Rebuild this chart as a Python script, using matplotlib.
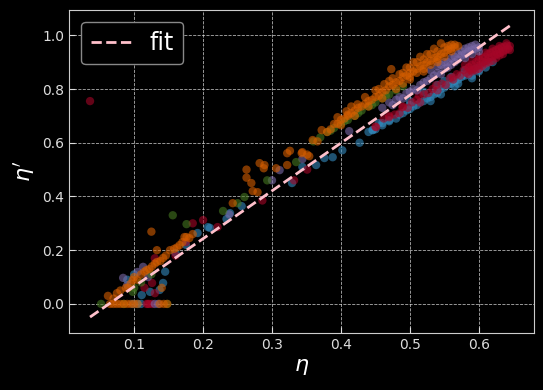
import matplotlib
matplotlib.use("Agg")
import matplotlib.pyplot as plt
import numpy as np

#%% data (eta, eta')

blue_x = [0.098, 0.105, 0.11, 0.142, 0.137, 0.123, 0.111, 0.09, 0.1, 0.145,
          0.16, 0.175, 0.192, 0.207, 0.21, 0.234, 0.239, 0.256, 0.329, 0.344,
          0.364, 0.376, 0.388, 0.402, 0.427, 0.446, 0.455, 0.47,
          0.44, 0.45, 0.46, 0.47, 0.48, 0.485, 0.49, 0.495, 0.5, 0.505,
          0.51, 0.515, 0.52, 0.525, 0.53, 0.535, 0.54, 0.545, 0.55, 0.555,
          0.56, 0.565, 0.57, 0.575, 0.58, 0.585, 0.59, 0.595, 0.6, 0.605,
          0.61, 0.615, 0.52, 0.54, 0.56, 0.58, 0.5, 0.55, 0.53, 0.57, 0.6, 0.59,
          0.46, 0.446, 0.5, 0.538, 0.576, 0.6, 0.62, 0.61, 0.59, 0.565, 0.545]
blue_y = [0.0, 0.0, 0.0, 0.078, 0.052, 0.045, 0.033, 0.09, 0.11, 0.12,
          0.19, 0.22, 0.264, 0.286, 0.283, 0.316, 0.338, 0.364, 0.45, 0.51,
          0.517, 0.543, 0.546, 0.572, 0.60, 0.647, 0.673, 0.684,
          0.64, 0.65, 0.665, 0.68, 0.69, 0.705, 0.71, 0.72, 0.725, 0.735,
          0.74, 0.75, 0.755, 0.765, 0.77, 0.78, 0.785, 0.8, 0.805, 0.815,
          0.82, 0.83, 0.835, 0.845, 0.85, 0.86, 0.865, 0.875, 0.88, 0.885,
          0.895, 0.9, 0.79, 0.815, 0.845, 0.87, 0.755, 0.83, 0.755, 0.82, 0.865, 0.85,
          0.673, 0.647, 0.74, 0.796, 0.851, 0.87, 0.9, 0.88, 0.84, 0.81, 0.78]

red_x = [0.036, 0.118, 0.122, 0.126, 0.12, 0.126, 0.13, 0.115, 0.13,
         0.185, 0.2, 0.221, 0.175, 0.16, 0.286, 0.332, 0.351,
         0.45, 0.462, 0.47, 0.478, 0.485, 0.49, 0.497, 0.503, 0.51, 0.515,
         0.52, 0.527, 0.533, 0.54, 0.546, 0.552, 0.558, 0.563, 0.568, 0.573,
         0.578, 0.582, 0.585, 0.588, 0.59, 0.593, 0.596, 0.598, 0.6, 0.602,
         0.605, 0.607, 0.609, 0.611, 0.613, 0.615, 0.617, 0.619, 0.621, 0.623,
         0.625, 0.627, 0.629, 0.631, 0.633, 0.635, 0.637, 0.639, 0.641, 0.643,
         0.645, 0.62, 0.6, 0.59, 0.61, 0.63,
         0.58, 0.59, 0.6, 0.61, 0.62, 0.63, 0.64, 0.585, 0.595, 0.605, 0.615,
         0.625, 0.635, 0.645, 0.562, 0.586, 0.538, 0.513, 0.489, 0.47, 0.451]
red_y = [0.755, 0.0, 0.0, 0.0, 0.0, 0.078, 0.04, 0.06, 0.17,
         0.30, 0.312, 0.286, 0.23, 0.18, 0.385, 0.46, 0.5,
         0.66, 0.69, 0.70, 0.705, 0.71, 0.735, 0.73, 0.75, 0.76, 0.75,
         0.78, 0.785, 0.8, 0.795, 0.82, 0.815, 0.84, 0.835, 0.855, 0.85,
         0.87, 0.86, 0.88, 0.87, 0.89, 0.875, 0.9, 0.885, 0.91, 0.89,
         0.915, 0.9, 0.92, 0.905, 0.93, 0.915, 0.935, 0.92, 0.94, 0.925,
         0.945, 0.93, 0.95, 0.935, 0.955, 0.94, 0.958, 0.945, 0.962, 0.95,
         0.96, 0.905, 0.875, 0.865, 0.895, 0.925,
         0.89, 0.905, 0.92, 0.935, 0.95, 0.96, 0.97, 0.855, 0.87, 0.885, 0.9,
         0.915, 0.93, 0.945, 0.844, 0.881, 0.814, 0.777, 0.732, 0.695, 0.658]

purple_x = [0.13, 0.135, 0.084, 0.113, 0.105, 0.09, 0.12,
            0.238, 0.3, 0.311, 0.344, 0.412,
            0.46, 0.47, 0.475, 0.48, 0.485, 0.49, 0.495, 0.5, 0.505, 0.51,
            0.515, 0.52, 0.525, 0.53, 0.535, 0.54, 0.545, 0.55, 0.555, 0.56,
            0.565, 0.57, 0.575, 0.58, 0.585, 0.59, 0.595, 0.6,
            0.55, 0.56, 0.57, 0.58, 0.54, 0.59, 0.53,
            0.565, 0.575, 0.585, 0.595, 0.555, 0.545, 0.6, 0.59, 0.58]
purple_y = [0.0, 0.0, 0.097, 0.138, 0.119, 0.07, 0.1,
            0.333, 0.46, 0.498, 0.539, 0.643,
            0.73, 0.75, 0.74, 0.76, 0.77, 0.765, 0.785, 0.79, 0.8, 0.795,
            0.815, 0.825, 0.83, 0.84, 0.85, 0.86, 0.855, 0.875, 0.88, 0.89,
            0.9, 0.91, 0.925, 0.93, 0.94, 0.945, 0.95, 0.955,
            0.9, 0.915, 0.93, 0.95, 0.885, 0.96, 0.87,
            0.92, 0.94, 0.955, 0.965, 0.9, 0.89, 0.94, 0.93, 0.915]

green_x = [0.052, 0.148, 0.098, 0.085, 0.11, 0.125, 0.1,
           0.156, 0.176, 0.229, 0.25, 0.26, 0.293, 0.335,
           0.36, 0.37, 0.38, 0.39, 0.4, 0.41, 0.42, 0.43, 0.44, 0.45,
           0.46, 0.47, 0.48, 0.49, 0.385, 0.405, 0.425, 0.445, 0.465]
green_y = [0.0, 0.0, 0.045, 0.0, 0.08, 0.11, 0.06,
           0.33, 0.297, 0.346, 0.375, 0.398, 0.46, 0.528,
           0.605, 0.62, 0.64, 0.655, 0.67, 0.685, 0.70, 0.72, 0.735, 0.75,
           0.765, 0.78, 0.795, 0.81, 0.645, 0.68, 0.71, 0.74, 0.775]

orange_x = [0.065, 0.07, 0.075, 0.08, 0.085, 0.09, 0.095, 0.1, 0.105,
            0.137, 0.143, 0.148,
            0.062, 0.07, 0.075, 0.08, 0.088, 0.091, 0.095, 0.098, 0.1, 0.104,
            0.11, 0.115, 0.118, 0.122, 0.126, 0.13, 0.133, 0.138, 0.142, 0.146,
            0.152, 0.158, 0.162, 0.166, 0.17, 0.176, 0.18, 0.185, 0.14, 0.125,
            0.133, 0.173,
            0.243, 0.263, 0.263, 0.27, 0.272, 0.279, 0.282, 0.289, 0.288, 0.306,
            0.322, 0.326, 0.322, 0.343, 0.354, 0.359, 0.366, 0.372, 0.344, 0.351,
            0.408, 0.41, 0.424, 0.463, 0.473,
            0.38, 0.385, 0.39, 0.395, 0.4, 0.405, 0.41, 0.415, 0.42, 0.425,
            0.43, 0.435, 0.44, 0.445, 0.45, 0.455, 0.46, 0.465, 0.47, 0.475,
            0.48, 0.485, 0.49, 0.495, 0.5, 0.505, 0.51, 0.515, 0.52, 0.525,
            0.53, 0.535, 0.54, 0.545, 0.55, 0.555, 0.56, 0.565, 0.57,
            0.45, 0.47, 0.49, 0.5, 0.51, 0.52, 0.53, 0.54, 0.55, 0.56,
            0.545, 0.525, 0.505, 0.485,
            0.46, 0.48, 0.5, 0.52, 0.54, 0.44, 0.42, 0.4,
            0.49, 0.5, 0.51, 0.52, 0.53, 0.54, 0.55, 0.56, 0.565, 0.555,
            0.535, 0.515, 0.495, 0.475, 0.455, 0.435, 0.415, 0.395]
orange_y = [0.0, 0.0, 0.0, 0.0, 0.0, 0.0, 0.0, 0.0, 0.0,
            0.0, 0.0, 0.0,
            0.03, 0.02, 0.04, 0.05, 0.06, 0.06, 0.075, 0.089, 0.1, 0.09,
            0.11, 0.12, 0.126, 0.13, 0.14, 0.15, 0.156, 0.16, 0.171, 0.18,
            0.2, 0.205, 0.21, 0.219, 0.23, 0.249, 0.245, 0.26, 0.06, 0.269,
            0.2, 0.249,
            0.375, 0.5, 0.47, 0.45, 0.42, 0.416, 0.524, 0.517, 0.505, 0.505,
            0.561, 0.57, 0.517, 0.561, 0.55, 0.61, 0.605, 0.647, 0.565, 0.556,
            0.717, 0.70, 0.743, 0.818, 0.874,
            0.64, 0.65, 0.67, 0.67, 0.685, 0.69, 0.705, 0.71, 0.72, 0.73,
            0.735, 0.745, 0.755, 0.76, 0.77, 0.775, 0.79, 0.795, 0.81, 0.815,
            0.825, 0.83, 0.845, 0.85, 0.86, 0.865, 0.875, 0.885, 0.89, 0.9,
            0.905, 0.915, 0.92, 0.93, 0.935, 0.945, 0.95, 0.955, 0.96,
            0.795, 0.83, 0.86, 0.88, 0.9, 0.91, 0.93, 0.94, 0.955, 0.965,
            0.97, 0.93, 0.9, 0.855,
            0.765, 0.8, 0.835, 0.865, 0.9, 0.735, 0.7, 0.665,
            0.82, 0.845, 0.86, 0.875, 0.89, 0.91, 0.92, 0.94, 0.965, 0.96,
            0.95, 0.92, 0.88, 0.84, 0.8, 0.77, 0.735, 0.695]

fit_slope = 1.78
fit_intercept = -0.113

#%% plot

plt.style.use("dark_background")
fig, ax = plt.subplots(figsize=(5.43, 3.9), dpi=100)
fig.subplots_adjust(left=0.1276, right=0.984, top=0.975, bottom=0.147)
fig.patch.set_facecolor("black")
ax.set_facecolor("black")

series = [(blue_x, blue_y, "#348ABD"),
          (red_x, red_y, "#A60628"),
          (purple_x, purple_y, "#7A68A6"),
          (green_x, green_y, "#467821"),
          (orange_x, orange_y, "#D55E00")]
for xs, ys, c in series:
    ax.scatter(xs, ys, s=36, color=c, alpha=0.6, edgecolors="none", zorder=2)

all_x = np.concatenate([np.array(s[0]) for s in series])
xf = np.array([all_x.min(), all_x.max()])
ax.plot(xf, fit_slope * xf + fit_intercept, "--", color="pink", lw=2, label="fit", zorder=3)

ax.set_xlim(0.0059, 0.6805)
ax.set_ylim(-0.107, 1.095)
ax.set_xticks([0.1, 0.2, 0.3, 0.4, 0.5, 0.6])
ax.set_yticks([0.0, 0.2, 0.4, 0.6, 0.8, 1.0])
ax.tick_params(direction="in", length=4, colors="#dddddd", labelsize=10)
for sp in ax.spines.values():
    sp.set_color("#cccccc")
ax.grid(True, color="#dddddd", linestyle="--", linewidth=0.6, alpha=0.8)
ax.set_axisbelow(True)

ax.set_xlabel(r"$\eta$", fontsize=16)
ax.set_ylabel(r"$\eta'$", fontsize=16)

leg = ax.legend(loc="upper left", fontsize=17, handlelength=1.7, frameon=True,
                facecolor="black", edgecolor="#888888", framealpha=1.0)

plt.savefig("out.png", dpi=100, facecolor=fig.get_facecolor())
